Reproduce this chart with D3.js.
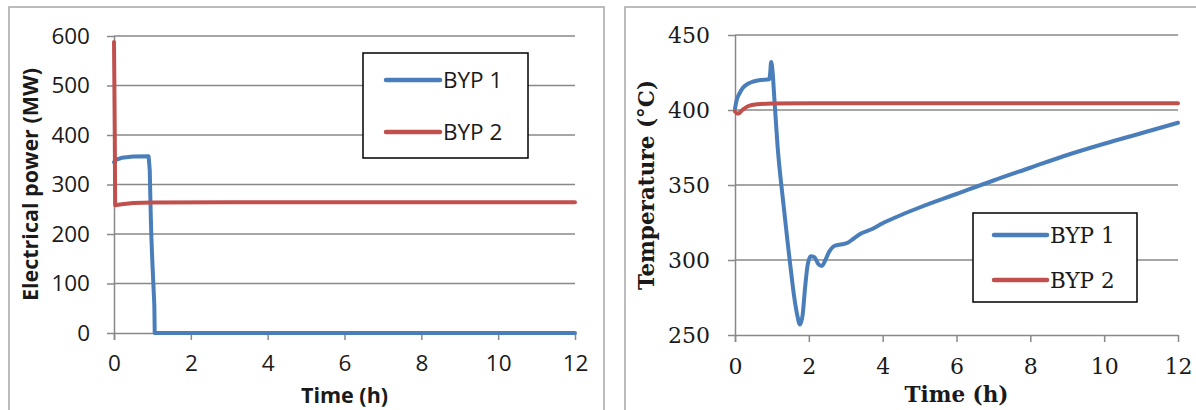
<!DOCTYPE html>
<html><head><meta charset="utf-8">
<script src="https://cdn.jsdelivr.net/npm/d3@7"></script>
<style>body{margin:0;background:#fff}svg{display:block}</style>
</head><body>
<svg id="c" width="1196" height="410"></svg>
<script>
// ---- data ----
const seriesNames = ["BYP 1", "BYP 2"];
const xTicks = [0, 2, 4, 6, 8, 10, 12];
const powerTicks = [0, 100, 200, 300, 400, 500, 600];
const tempTicks = [250, 300, 350, 400, 450];
// Electrical power (MW) vs time (h)
const powerBYP1 = [[0,345],[0.05,350],[0.2,354],[0.5,356.5],[0.9,357],[0.93,330],[0.95,260],[0.97,200],[1.0,140],[1.03,90],[1.05,55],[1.06,0],[12,0]];
const powerBYP2 = [[0,588],[0.01,500],[0.02,400],[0.03,258],[0.2,260],[0.5,262.5],[1,263.5],[3,264],[12,264]];
// Temperature (°C) vs time (h)
const tempBYP1 = [[0,401],[0.05,407],[0.12,411],[0.22,415],[0.35,417.5],[0.5,419],[0.7,420],[0.93,420.5],[0.95,424],[0.98,432],[1.02,425],[1.06,410],[1.1,395],[1.15,377],[1.3,340],[1.42,313],[1.5,296],[1.6,276],[1.68,264],[1.76,257],[1.83,263],[1.9,282],[1.97,297],[2.05,302.5],[2.15,302],[2.25,297.5],[2.35,296],[2.45,300],[2.55,305.5],[2.7,309.5],[2.9,310.5],[3.05,311.5],[3.2,314],[3.4,317.5],[3.7,320.5],[4,324.5],[4.5,330],[5,335],[6,344],[7,353],[8,361.5],[9,370],[10,377.5],[11,384.5],[12,391.5]];
const tempBYP2 = [[0,399],[0.08,397.5],[0.2,400],[0.35,402.5],[0.6,403.8],[1,404.3],[2,404.5],[12,404.5]];
const colors = ["#4A7EBB", "#C0504D"];

const svg = d3.select("#c");
const gridCol = "#888888", borderCol = "#a6a6a6";

svg.append("rect").attr("x",9).attr("y",7).attr("width",595).attr("height",420)
  .attr("fill","none").attr("stroke",borderCol).attr("stroke-width",1.5);
svg.append("rect").attr("x",625).attr("y",7).attr("width",600).attr("height",420)
  .attr("fill","none").attr("stroke",borderCol).attr("stroke-width",1.5);

function panel(cfg){
  const g = svg.append("g");
  const x = d3.scaleLinear().domain([0,12]).range([cfg.x0, cfg.x1]);
  const y = d3.scaleLinear().domain(cfg.ydom).range([cfg.yb, cfg.yt]);
  g.selectAll(".grid").data(cfg.yticks.slice(1)).enter().append("line")
    .attr("x1",cfg.x0).attr("x2",cfg.x1).attr("y1",d=>y(d)).attr("y2",d=>y(d))
    .attr("stroke",gridCol).attr("stroke-width",1.5);
  const ya = g.append("g").attr("transform",`translate(${cfg.x0},0)`)
    .call(d3.axisLeft(y).tickValues(cfg.yticks).tickSize(7).tickPadding(cfg.ypad));
  const xa = g.append("g").attr("transform",`translate(0,${cfg.yb})`)
    .call(d3.axisBottom(x).tickValues(xTicks).tickSize(7).tickPadding(cfg.xpad));
  [ya,xa].forEach(a=>{
    a.select(".domain").attr("stroke",gridCol).attr("stroke-width",1.5);
    a.selectAll(".tick line").attr("stroke",gridCol).attr("stroke-width",1.5);
    a.selectAll("text").attr("font-family",cfg.font).attr("font-size",cfg.tickSize).attr("fill","#1a1a1a");
  });
  xa.select(".domain").attr("d",`M${cfg.x0},0.5H${cfg.x1}`);
  ya.select(".domain").attr("d",`M0.5,${cfg.yb+7}V${cfg.yt}`);
  g.append("text").attr("x",(cfg.x0+cfg.x1)/2).attr("y",cfg.xtY).attr("text-anchor","middle")
    .attr("font-family",cfg.font).attr("font-weight","bold").attr("font-size",cfg.titleSize)
    .attr("fill","#1a1a1a").text("Time (h)");
  g.append("text").attr("transform",`translate(${cfg.ytx},${(cfg.yt+cfg.yb)/2}) rotate(-90)`)
    .attr("text-anchor","middle").attr("font-family",cfg.font).attr("font-weight","bold")
    .attr("font-size",cfg.ytSize).attr("fill","#1a1a1a").text(cfg.ytitle);
  const line = d3.line().x(d=>x(d[0])).y(d=>y(d[1])).curve(cfg.curve);
  cfg.series.forEach((s,i)=>{
    g.append("path").attr("d",line(s)).attr("fill","none").attr("stroke",colors[i])
      .attr("stroke-width",4).attr("stroke-linejoin","round").attr("stroke-linecap","round");
  });
  const L = cfg.legend;
  g.append("rect").attr("x",L.x).attr("y",L.y).attr("width",L.w).attr("height",L.h)
    .attr("fill","#fff").attr("stroke","#000").attr("stroke-width",1.5);
  seriesNames.forEach((n,i)=>{
    const yy = L.ly[i];
    g.append("line").attr("x1",L.lx0).attr("x2",L.lx1).attr("y1",yy).attr("y2",yy)
      .attr("stroke",colors[i]).attr("stroke-width",4.5).attr("stroke-linecap","round");
    g.append("text").attr("x",L.lx1+3).attr("y",yy).attr("dy","0.36em")
      .attr("font-family",cfg.font).attr("font-size",cfg.legSize).attr("fill","#1a1a1a").text(n);
  });
}

panel({x0:114,x1:575,yt:36,yb:333,ydom:[0,600],yticks:powerTicks,
  font:"'Open Sans', sans-serif",tickSize:22.5,titleSize:21.5,ytSize:21.5,ypad:17,xpad:15,xtY:403,
  ytitle:"Electrical power (MW)",ytx:38,curve:d3.curveLinear,
  series:[powerBYP1,powerBYP2],legSize:22.5,
  legend:{x:363,y:53,w:165,h:105,lx0:386,lx1:440,ly:[80,132]}});

panel({x0:735,x1:1178,yt:35,yb:335,ydom:[250,450],yticks:tempTicks,
  font:"'DejaVu Serif', serif",tickSize:22,titleSize:21.5,ytSize:21.5,ypad:18,xpad:16,xtY:402,
  ytitle:"Temperature (°C)",ytx:654,curve:d3.curveMonotoneX,
  series:[tempBYP1,tempBYP2],legSize:21.5,
  legend:{x:973,y:213,w:164,h:89,lx0:994,lx1:1047,ly:[235,280]}});
</script>
</body></html>
